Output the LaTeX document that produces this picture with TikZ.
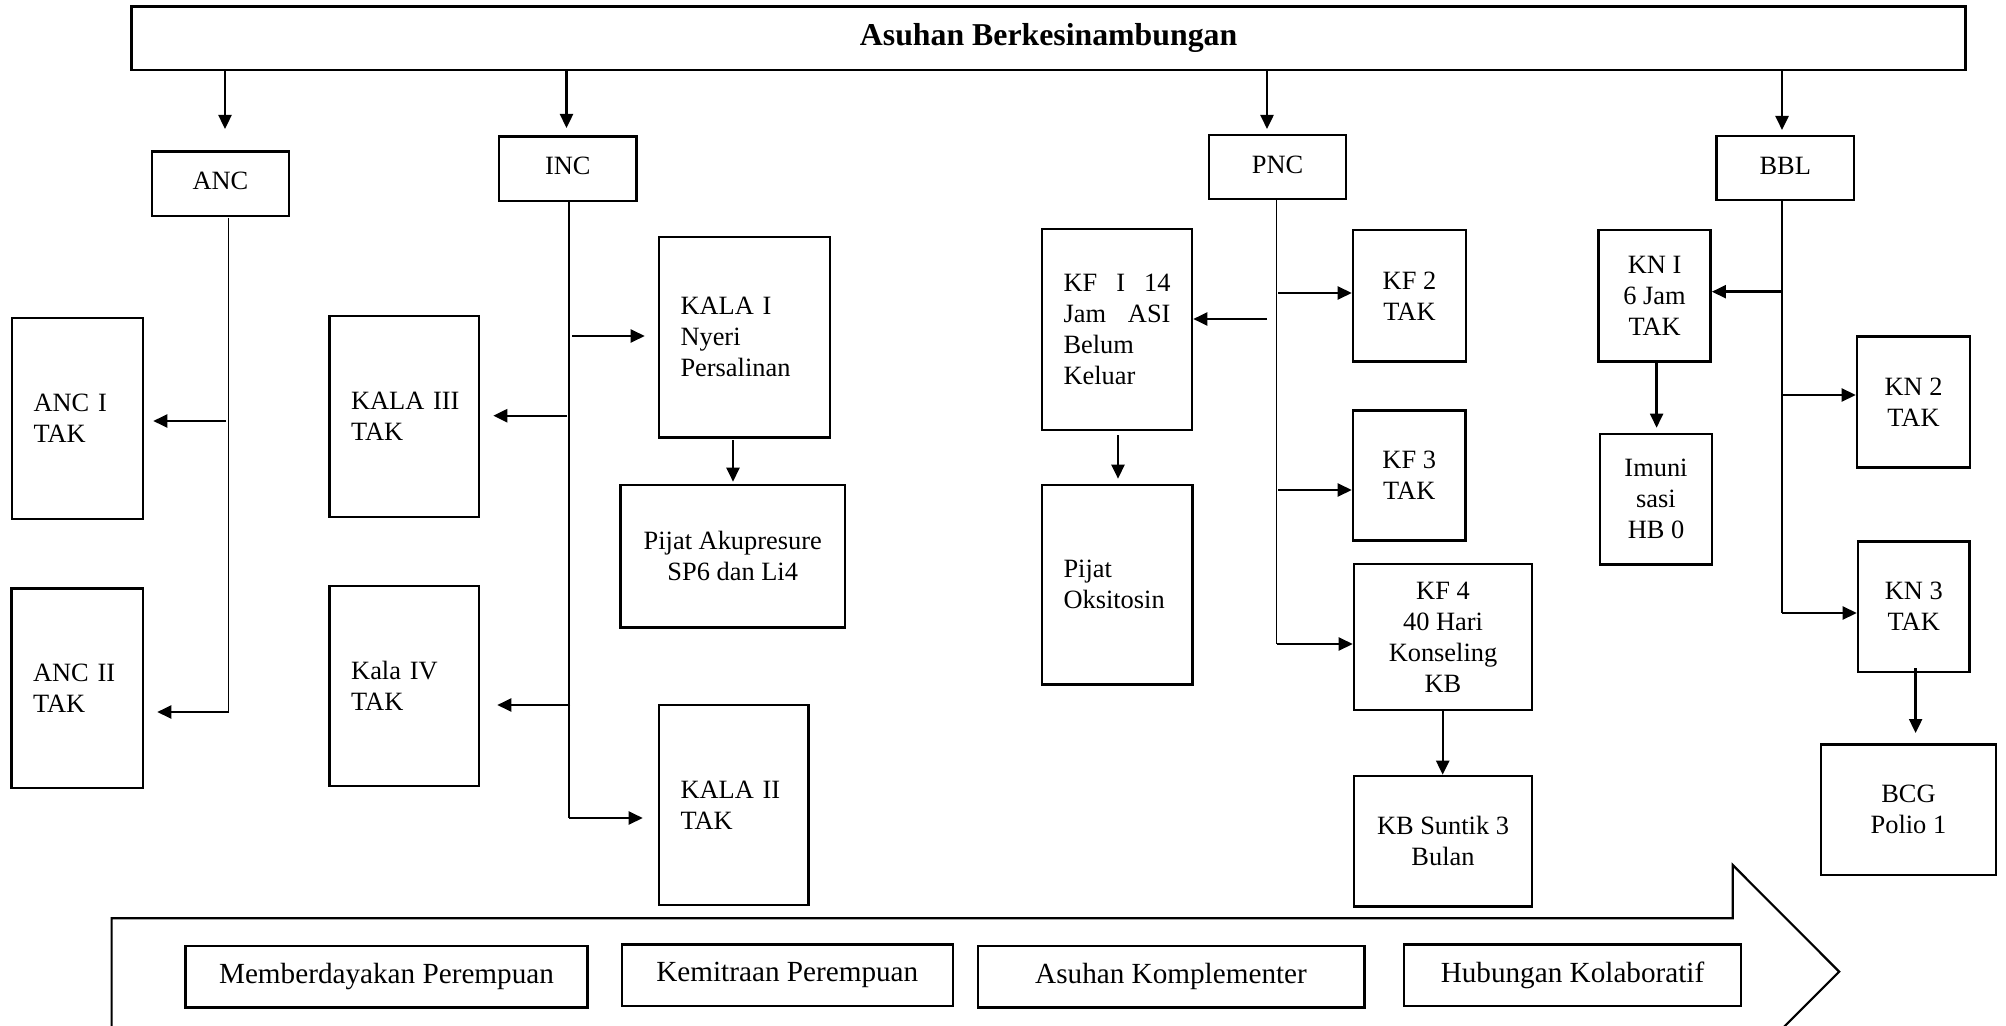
\documentclass[tikz,border=0pt]{standalone}
\usepackage{fontspec}
\setmainfont{Liberation Serif}
\usetikzlibrary{arrows.meta}
\tikzset{
  box/.style={draw, line width=1.3pt, inner sep=0pt, font=\fontsize{13.2}{15.5}\selectfont},
  cbox/.style={box, align=center},
  lbox/.style={box, align=left, text width=\myTW pt},
  hbox/.style={box, align=center, text depth=0.26em},
  mbox/.style={box, line width=1.2pt, font=\fontsize{14.6}{17}\selectfont},
  titlebox/.style={box, font=\fontsize{15.9}{18}\selectfont\bfseries},
  arr/.style={line width=1.2pt, -{Triangle[length=7pt,width=6.5pt]}},
  spine/.style={line width=0.6pt},
  chevron/.style={line width=1.1pt},
}
\newcommand\mybox[7]{%
  \pgfmathsetmacro\myBW{(#4-#2)*0.5}%
  \pgfmathsetmacro\myBH{(#5-#3)*0.5}%
  \pgfmathsetmacro\myCX{(#2+#4)/2}%
  \pgfmathsetmacro\myCY{(#3+#5)/2}%
  \pgfmathsetmacro\myTW{(#4-#2-43)*0.5}%
  \node[#6, minimum width=\myBW pt, minimum height=\myBH pt] (#1) at (\myCX,\myCY) {#7};}
\begin{document}
\begin{tikzpicture}[x=0.5pt, y=-0.5pt]
\useasboundingbox (0,0) rectangle (2006,1026);
\clip (0,0) rectangle (2006,1026);
% boxes
\mybox{top}{131.7}{6.7}{1965.5}{70}{titlebox}{Asuhan Berkesinambungan}
\mybox{anc}{151.8}{151.7}{289}{216}{hbox}{ANC}
\mybox{inc}{499}{136.7}{636.6}{201}{hbox}{INC}
\mybox{pnc}{1209}{135}{1346}{199}{hbox}{PNC}
\mybox{bbl}{1716.5}{136}{1854}{200}{hbox}{BBL}
\mybox{ancI}{12}{318}{143}{519}{lbox}{ANC~I\\TAK}
\mybox{ancII}{11.5}{588.7}{143}{788}{lbox}{ANC~II\\TAK}
\mybox{kala3}{329.5}{316}{479}{517}{lbox}{KALA~III\\TAK}
\mybox{kala4}{329.7}{586}{479}{786}{lbox}{Kala~IV\\TAK}
\mybox{kala1}{659}{237}{830}{437.7}{lbox}{KALA~I\\Nyeri\\Persalinan}
\mybox{pijat1}{620.5}{485}{845}{627.7}{cbox}{Pijat Akupresure\\SP6 dan Li4}
\mybox{kala2}{659}{705}{808.7}{905}{lbox}{KALA~II\\TAK}
\mybox{kf1}{1042}{229}{1192}{430}{lbox}{KF\hfill I\hfill 14\\Jam\hfill ASI\\Belum\\Keluar}
\mybox{pijat2}{1042}{485}{1192.5}{684.3}{lbox}{Pijat\\Oksitosin}
\mybox{kf2}{1353}{230}{1466}{361.7}{cbox}{KF 2\\TAK}
\mybox{kf3}{1353}{410.7}{1465.5}{540.7}{cbox}{KF 3\\TAK}
\mybox{kf4}{1354}{564}{1532}{710}{cbox}{KF 4\\40 Hari\\Konseling\\KB}
\mybox{kb}{1354}{776}{1532}{906.7}{cbox}{KB Suntik 3\\Bulan}
\mybox{kn1}{1598.5}{230}{1710.6}{361.7}{cbox}{KN I\\6 Jam\\TAK}
\mybox{imun}{1600}{434}{1712}{564.3}{cbox}{Imuni\\sasi\\HB 0}
\mybox{kn2}{1857}{336.7}{1970}{467.7}{cbox}{KN 2\\TAK}
\mybox{kn3}{1858}{541.3}{1969.5}{672}{cbox}{KN 3\\TAK}
\mybox{bcg}{1821}{744.3}{1995.8}{875}{cbox}{BCG\\Polio 1}
\mybox{m1}{185.6}{946}{587.4}{1007.3}{mbox}{Memberdayakan Perempuan}
\mybox{m2}{621.8}{944.3}{952.8}{1005.7}{mbox}{Kemitraan Perempuan}
\mybox{m3}{977.7}{946}{1364.4}{1007.3}{mbox}{Asuhan Komplementer}
\mybox{m4}{1404}{944.3}{1741}{1005.7}{mbox}{Hubungan Kolaboratif}
% arrows from top
\coordinate (tA) at (225,129);
\coordinate (tI) at (566.5,128);
\coordinate (tP) at (1267,129);
\coordinate (tB) at (1782,130);
\foreach \c in {tA,tI,tP,tB} \draw[arr] (top.south -| \c) -- (\c);
% ANC
\coordinate (aS) at (228.6,218); \coordinate (aE) at (228.6,713);
\draw[spine] (aS) -- (aE);
\coordinate (a1) at (226,421);
\draw[arr, shorten >=4.5pt] (a1) -- (a1 -| ancI.east);
\coordinate (a2) at (229,712);
\draw[arr, shorten >=6.5pt] (a2) -- (a2 -| ancII.east);
% INC
\coordinate (iS) at (569,201.7); \coordinate (iE) at (569,818);
\draw[spine] (iS) -- (iE);
\coordinate (i1) at (567,415.7);
\draw[arr, shorten >=6.5pt] (i1) -- (i1 -| kala3.east);
\coordinate (i2) at (572,336);
\draw[arr, shorten >=6.5pt] (i2) -- (i2 -| kala1.west);
\coordinate (i3) at (570,705);
\draw[arr, shorten >=8.5pt] (i3) -- (i3 -| kala4.east);
\draw[arr, shorten >=7.5pt] (iE) -- (iE -| kala2.west);
% PNC
\coordinate (pS) at (1276.5,199); \coordinate (pE) at (1276.5,644);
\draw[spine] (pS) -- (pE);
\coordinate (p1) at (1267,319);
\draw[arr] (p1) -- (p1 -| kf1.east);
\coordinate (p2) at (1278,293);
\draw[arr] (p2) -- (p2 -| kf2.west);
\coordinate (p3) at (1278,490);
\draw[arr] (p3) -- (p3 -| kf3.west);
\draw[arr] (pE) -- (pE -| kf4.west);
% BBL
\coordinate (bS) at (1782,200); \coordinate (bE) at (1782,613);
\draw[spine] (bS) -- (bE);
\coordinate (b1) at (1782,291.7);
\draw[arr] (b1) -- (b1 -| kn1.east);
\coordinate (b2) at (1782,395);
\draw[arr] (b2) -- (b2 -| kn2.west);
\draw[arr] (bE) -- (bE -| kn3.west);
% vertical arrows
\coordinate (v1) at (733,440);
\draw[arr, shorten >=1pt] (v1) -- (v1 |- pijat1.north);
\coordinate (v2) at (1118,435);
\draw[arr, shorten >=2.5pt] (v2) -- (v2 |- pijat2.north);
\coordinate (v3) at (1442.7,710);
\draw[arr] (v3) -- (v3 |- kb.north);
\coordinate (v4) at (1656.6,362);
\draw[arr, shorten >=2.5pt] (v4) -- (v4 |- imun.north);
\coordinate (v5) at (1915.6,668);
\draw[arr, shorten >=5pt] (v5) -- (v5 |- bcg.north);
% chevron
\draw[chevron] (111.6,1040) -- (111.6,918.3) -- (1732.7,918.3) -- (1732.7,865) -- (1839.2,971.7) -- (1770,1040.9);
\end{tikzpicture}
\end{document}
